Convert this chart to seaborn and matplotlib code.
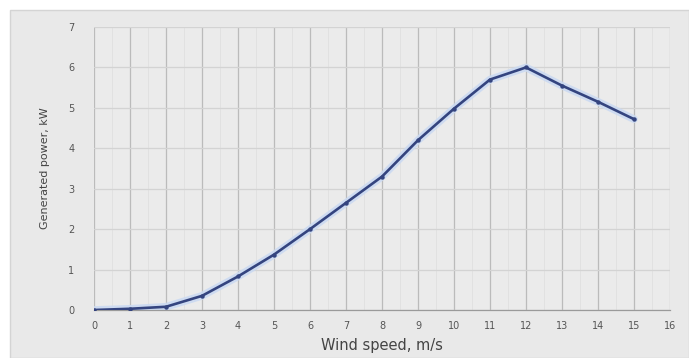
import matplotlib
matplotlib.use("Agg")
import matplotlib.pyplot as plt
from matplotlib.patches import Rectangle
import numpy as np
import pandas as pd
import seaborn as sns

# Wind turbine power curve
wind_speed = [0, 1, 2, 3, 4, 5, 6, 7, 8, 9, 10, 11, 12, 13, 14, 15]
power_kw = [0.0, 0.03, 0.08, 0.35, 0.83, 1.37, 2.0, 2.65, 3.3, 4.2, 4.98, 5.7, 6.0, 5.55, 5.15, 4.72]
x_ticks = list(range(0, 17))
y_ticks = list(range(0, 8))

df = pd.DataFrame({"Wind speed, m/s": wind_speed, "Generated power, kW": power_kw})

sns.set_theme(style="white")
plt.rcParams["font.family"] = ["DejaVu Sans"]

W, H = 689, 358
fig = plt.figure(figsize=(W / 100, H / 100), dpi=100)
fig.patch.set_facecolor("white")

# grey panel behind the chart
panel = Rectangle((10 / W, 0), 1 - 10 / W, 1 - 10 / H, transform=fig.transFigure,
                  facecolor="#e9e9e9", edgecolor="#d4d4d4", linewidth=1.0, zorder=-5)
fig.patches.append(panel)

ax = fig.add_axes([94 / W, 1 - 310 / H, (670 - 94) / W, (310 - 27) / H])
ax.set_zorder(1)
ax.set_facecolor("#ebebeb")

# soft halo under the curve
ax.plot(wind_speed, power_kw, color="#cbdaf2", linewidth=5.5, alpha=0.9,
        solid_capstyle="round", zorder=2)
sns.lineplot(data=df, x="Wind speed, m/s", y="Generated power, kW", ax=ax,
             color="#34447f", linewidth=1.9, marker="o", markersize=3.2,
             markeredgewidth=0, zorder=3)

ax.set_xlim(0, 16)
ax.set_ylim(0, 7)
ax.set_xticks(x_ticks)
ax.set_yticks(y_ticks)
ax.set_xticklabels([str(t) for t in x_ticks])
ax.set_yticklabels([str(t) for t in y_ticks])
ax.tick_params(axis="both", length=0, labelsize=7, colors="#555555")
ax.tick_params(axis="y", pad=14)
ax.tick_params(axis="x", pad=8)

# grid: vertical major lines darker than the horizontal ones
ax.set_xticks(np.arange(0.5, 16, 1.0), minor=True)
ax.grid(True, which="major", axis="x", color="#bbbbbb", linewidth=0.9)
ax.grid(True, which="minor", axis="x", color="#e0e0e0", linewidth=0.6)
ax.grid(True, which="major", axis="y", color="#d3d3d3", linewidth=0.9)
ax.tick_params(which="minor", length=0)
ax.set_axisbelow(True)

for side in ["top", "right", "left"]:
    ax.spines[side].set_visible(False)
ax.spines["bottom"].set_color("#9a9a9a")
ax.spines["bottom"].set_linewidth(0.9)

ax.set_xlabel("Wind speed, m/s", fontsize=10.5, color="#444444", labelpad=5)
ax.set_ylabel("Generated power, kW", fontsize=8, color="#444444", labelpad=13)

fig.savefig("out.png", dpi=100)
